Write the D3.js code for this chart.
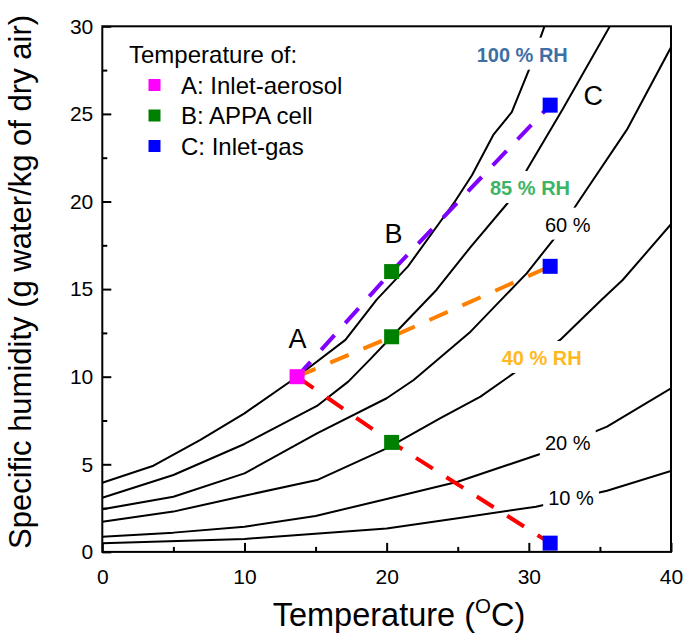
<!DOCTYPE html>
<html>
<head>
<meta charset="utf-8">
<script src="https://cdn.jsdelivr.net/npm/d3@7"></script>
<style>
  html, body { margin: 0; padding: 0; background: #fff; }
  svg { display: block; font-family: Arial, "Liberation Sans", sans-serif; }
</style>
</head>
<body>
<svg id="chart" width="686" height="634"></svg>
<script>
// ---------------- data ----------------
const rhNames = ["100 % RH", "85 % RH", "60 %", "40 % RH", "20 %", "10 %"];

const rh100 = [[0,3.95],[3.6,4.92],[6.9,6.39],[10,7.91],[13.7,10.0],[17.1,12.1],[19.3,14.4],[21.5,16.3],[24.8,20.0],[26.0,21.5],[27.5,23.8],[28.8,25.1],[30.0,27.5],[31.1,30.0]];
const rh85  = [[0,3.09],[5,4.39],[10,6.16],[15.1,8.33],[17.3,9.72],[18.8,10.96],[20.35,12.28],[23.5,14.95],[25.9,17.4],[28.5,19.9],[30.0,22.0],[32.4,25.3],[35.7,30.0]];
const rh60  = [[0,2.43],[5,3.15],[10,4.48],[15.1,6.77],[20,8.77],[21.9,9.81],[25.9,12.57],[29.85,15.9],[31.8,17.9],[33.5,20.0],[36.9,24.1],[40,28.8]];
const rh40  = [[0,1.72],[5,2.30],[10,3.21],[15.1,4.10],[20,5.91],[23.75,7.62],[26.6,8.86],[29.1,10.29],[32.2,12.1],[35.1,14.38],[36.6,15.52],[40,18.7]];
const rh20  = [[0,0.87],[5,1.10],[10,1.44],[15,2.05],[20,3.02],[25,4.0],[30.8,5.59],[35.5,7.15],[40,9.34]];
const rh10  = [[0,0.49],[10,0.74],[20,1.33],[25,1.92],[30.5,2.58],[35.5,3.49],[40,4.62]];
const rhCurves = [rh100, rh85, rh60, rh40, rh20, rh10];

// process points: A (inlet-aerosol), B (APPA cell), C (inlet-gas)
const pointNames = ["A", "B", "C"];
const pointTemps = [13.7, 20.35, 31.5];
const pathPurple = [10.0, 16.0, 25.5];
const pathOrange = [10.0, 12.28, 16.3];
const pathRed    = [10.0, 6.25, 0.5];

const legendTitle = "Temperature of:";
const legendItems = ["A: Inlet-aerosol", "B: APPA cell", "C: Inlet-gas"];

const xTicks = [0, 10, 20, 30, 40];
const xMinor = [5, 15, 25, 35];
const yTicks = [0, 5, 10, 15, 20, 25, 30];
const yMinor = [2.5, 7.5, 12.5, 17.5, 22.5, 27.5];

// ---------------- layout & style ----------------
const L = 102.3, R = 671, T = 26.3, B = 551.9;
const pointColors = ["#ff00ff", "#008000", "#0000ff"];
const pathColors = ["#8000ff", "#ff8000", "#ff0000"];
// label placement (data coords of text anchor / baseline) and styling
const rhLabelStyle = [
  {t: 26.33, q: 27.98, color: "#3d6fa6", weight: "bold"},
  {t: 27.27, q: 20.37, color: "#3cb464", weight: "bold"},
  {t: 31.13, q: 18.28, color: "#000",    weight: "normal"},
  {t: 28.09, q: 10.67, color: "#ffb91e", weight: "bold"},
  {t: 31.13, q: 5.82,  color: "#000",    weight: "normal"},
  {t: 31.36, q: 2.68,  color: "#000",    weight: "normal"}
];
const pointLabelPos = [[13.73, 11.64], [20.48, 17.63], [34.54, 25.5]];

const svg = d3.select("#chart");
const x = d3.scaleLinear().domain([0, 40]).range([L, R]);
const y = d3.scaleLinear().domain([0, 30]).range([B, T]);

const defs = svg.append("defs");
defs.append("clipPath").attr("id", "plotclip")
  .append("rect").attr("x", L).attr("y", T).attr("width", R - L).attr("height", B - T);
const mask = defs.append("mask").attr("id", "gapmask").attr("maskUnits", "userSpaceOnUse")
  .attr("x", 0).attr("y", 0).attr("width", 686).attr("height", 634);
mask.append("rect").attr("x", 0).attr("y", 0).attr("width", 686).attr("height", 634).attr("fill", "white");

// RH curves
const line = d3.line().x(d => x(d[0])).y(d => y(d[1]));
const curveG = svg.append("g").attr("clip-path", "url(#plotclip)")
  .append("g").attr("mask", "url(#gapmask)");
curveG.selectAll("path.rh").data(rhCurves).join("path")
  .attr("class", "rh")
  .attr("d", line)
  .attr("fill", "none").attr("stroke", "#000").attr("stroke-width", 2)
  .attr("stroke-linejoin", "round");

// RH labels
const labG = svg.append("g");
rhNames.forEach((name, i) => {
  const s = rhLabelStyle[i];
  const txt = labG.append("text")
    .attr("x", x(s.t)).attr("y", y(s.q))
    .attr("font-size", 20).attr("font-weight", s.weight)
    .attr("fill", s.color).text(name);
  const bb = txt.node().getBBox();
  mask.append("rect")
    .attr("x", bb.x - 5).attr("y", bb.y - 6)
    .attr("width", bb.width + 10).attr("height", bb.height + 10)
    .attr("fill", "black");
});

// dashed process paths
const series = [pathPurple, pathOrange, pathRed];
const pline = d3.line().x((d, i) => x(pointTemps[i])).y(d => y(d));
svg.append("g").selectAll("path.proc").data(series).join("path")
  .attr("class", "proc")
  .attr("d", pline)
  .attr("fill", "none")
  .attr("stroke", (d, i) => pathColors[i])
  .attr("stroke-width", 4)
  .attr("stroke-dasharray", "20,16");

// markers
const markers = [];
series.forEach(s => s.forEach((v, i) => {
  if (i === 0 && markers.some(m => m.i === 0)) return;
  markers.push({i, t: pointTemps[i], q: v});
}));
const ms = 15;
svg.append("g").selectAll("rect.mk").data(markers).join("rect")
  .attr("class", "mk")
  .attr("x", d => x(d.t) - ms / 2).attr("y", d => y(d.q) - ms / 2)
  .attr("width", ms).attr("height", ms)
  .attr("fill", d => pointColors[d.i]);

// point labels
svg.append("g").selectAll("text.pl").data(pointNames).join("text")
  .attr("class", "pl")
  .attr("x", (d, i) => x(pointLabelPos[i][0])).attr("y", (d, i) => y(pointLabelPos[i][1]))
  .attr("text-anchor", "middle").attr("font-size", 27).attr("fill", "#000")
  .text(d => d);

// axes
const axX = svg.append("g").attr("transform", `translate(0,${B})`)
  .call(d3.axisBottom(x).tickValues(xTicks).tickSizeInner(-9).tickSizeOuter(0).tickPadding(17));
const axXm = svg.append("g").attr("transform", `translate(0,${B})`)
  .call(d3.axisBottom(x).tickValues(xMinor).tickSizeInner(-5).tickSizeOuter(0).tickFormat(""));
const axY = svg.append("g").attr("transform", `translate(${L},0)`)
  .call(d3.axisLeft(y).tickValues(yTicks).tickSizeInner(-9).tickSizeOuter(0).tickPadding(9));
const axYm = svg.append("g").attr("transform", `translate(${L},0)`)
  .call(d3.axisLeft(y).tickValues(yMinor).tickSizeInner(-5).tickSizeOuter(0).tickFormat(""));
[axX, axXm, axY, axYm].forEach(g => {
  g.selectAll("line").attr("stroke", "#000").attr("stroke-width", 2);
  g.select(".domain").remove();
  g.selectAll("text").attr("font-size", 21).attr("fill", "#000")
    .attr("font-family", "Arial, 'Liberation Sans', sans-serif");
});
axX.selectAll("text").attr("dy", "0.71em");

// frame
svg.append("rect").attr("x", L).attr("y", T).attr("width", R - L).attr("height", B - T)
  .attr("fill", "none").attr("stroke", "#000").attr("stroke-width", 2);

// axis titles
const xt = svg.append("text").attr("x", 399).attr("y", 626).attr("text-anchor", "middle")
  .attr("font-size", 32.5).attr("fill", "#000");
xt.append("tspan").text("Temperature (");
xt.append("tspan").attr("font-size", 20.5).attr("dy", -13.5).text("O");
xt.append("tspan").attr("dy", 13.5).text("C)");

svg.append("text").attr("transform", "translate(31,282) rotate(-90)")
  .attr("text-anchor", "middle").attr("font-size", 31).attr("fill", "#000")
  .text("Specific humidity (g water/kg of dry air)");

// legend
const lg = svg.append("g");
lg.append("text").attr("x", 129).attr("y", 63).attr("font-size", 24).attr("fill", "#000").text(legendTitle);
legendItems.forEach((t, i) => {
  const cy = 85 + i * 30.5;
  lg.append("rect").attr("x", 148.5).attr("y", cy - 6).attr("width", 12).attr("height", 12).attr("fill", pointColors[i]);
  lg.append("text").attr("x", 181).attr("y", cy + 8.5).attr("font-size", 24).attr("fill", "#000").text(t);
});
</script>
</body>
</html>
